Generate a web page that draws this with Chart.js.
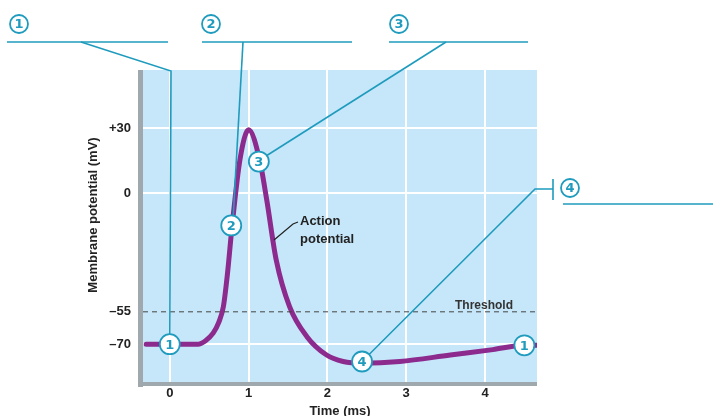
<!DOCTYPE html>
<html>
<head>
<meta charset="utf-8">
<script src="https://cdn.jsdelivr.net/npm/chart.js@4"></script>
<style>
  html, body { margin: 0; padding: 0; background: #fff; }
  #wrap { width: 719px; height: 416px; }
</style>
</head>
<body>
<div id="wrap"><canvas id="chart"></canvas></div>
<script>
// action potential trace (time ms, membrane potential mV)
const timeMs = [-0.3, 0.0, 0.36, 0.45, 0.55, 0.62, 0.68, 0.73, 0.79, 0.89, 1.0, 1.14, 1.23, 1.35, 1.52, 1.74, 1.99, 2.2, 2.44, 2.92, 3.56, 4.1, 4.5, 4.66];
const potential = [-70, -70, -70, -68.5, -64.9, -60, -52.6, -38, -15.5, 15.4, 29.3, 15.4, -3.1, -30.9, -52.6, -66.5, -75, -78, -78.8, -78, -75, -72.5, -70.5, -70.5];
const thresholdMv = -55;
const yTicks = [30, 0, -55, -70];
const yTickLabels = { '30': '+30', '0': '0', '-55': '\u201355', '-70': '\u201370' };
const xTicks = [0, 1, 2, 3, 4];
// numbered markers on the curve
const markerLabels = ['1', '2', '3', '4', '1'];
const markerX = [0, 0.78, 1.13, 2.44, 4.5];
const markerY = [-70, -15, 14.6, -78, -70.5];

const TEAL = '#1f9bbd';

const overlay = {
  id: 'overlay',
  beforeDraw(chart) {
    const { ctx, chartArea: a } = chart;
    ctx.save();
    ctx.fillStyle = '#c6e7f9';
    ctx.fillRect(a.left, a.top, a.right - a.left, a.bottom - a.top);
    ctx.fillStyle = '#9ea8ad';
    ctx.fillRect(a.left - 5, a.top, 5, a.bottom - a.top + 5);
    ctx.fillRect(a.left - 5, a.bottom, a.right - a.left + 5, 4);
    ctx.restore();
  },
  afterDraw(chart) {
    const { ctx } = chart;
    const xs = chart.scales.x, ys = chart.scales.y;
    const pts = markerX.map((v, i) => [xs.getPixelForValue(v), ys.getPixelForValue(markerY[i])]);
    ctx.save();
    ctx.strokeStyle = TEAL;
    ctx.lineWidth = 1.6;
    // label rules and connectors
    const seg = (p) => { ctx.beginPath(); ctx.moveTo(p[0][0], p[0][1]); for (const q of p.slice(1)) ctx.lineTo(q[0], q[1]); ctx.stroke(); };
    seg([[7, 42], [168, 42]]);
    seg([[202, 42], [352, 42]]);
    seg([[389, 42], [528, 42]]);
    seg([[563, 204], [713, 204]]);
    seg([[553, 179], [553, 200]]);
    seg([[81, 42], [171, 71], [pts[0][0], pts[0][1] - 10]]);
    seg([[243, 42], [pts[1][0] + 2, pts[1][1] - 10]]);
    seg([[446, 42], [pts[2][0] + 8, pts[2][1] - 6]]);
    seg([[553, 189], [535, 189], [pts[3][0] + 7, pts[3][1] - 7]]);
    const badge = (x, y, t, r) => {
      ctx.beginPath(); ctx.arc(x, y, r, 0, Math.PI * 2);
      ctx.fillStyle = '#fff'; ctx.fill();
      ctx.lineWidth = 1.8; ctx.strokeStyle = TEAL; ctx.stroke();
      ctx.fillStyle = TEAL; ctx.font = 'bold 13px "DejaVu Sans"';
      ctx.textAlign = 'center'; ctx.textBaseline = 'middle';
      ctx.fillText(t, x, y + 1);
    };
    badge(19, 24, '1', 9);
    badge(211, 24, '2', 9);
    badge(399, 24, '3', 9);
    badge(570, 188, '4', 9);
    pts.forEach((p, i) => badge(p[0], p[1], markerLabels[i], 10));
    // text labels
    ctx.fillStyle = '#222';
    ctx.textAlign = 'left'; ctx.textBaseline = 'middle';
    ctx.font = 'bold 13px "Liberation Sans"';
    ctx.fillText('Action', 300, 221);
    ctx.fillText('potential', 300, 239);
    ctx.strokeStyle = '#222'; ctx.lineWidth = 1.2;
    seg([[298, 222], [293, 224], [274, 240]]);
    ctx.fillStyle = '#333';
    ctx.font = 'bold 12px "Liberation Sans"';
    ctx.fillText('Threshold', 455, 306);
    ctx.fillStyle = '#222';
    ctx.font = 'bold 13px "Liberation Sans"';
    ctx.textAlign = 'center';
    ctx.fillText('Time (ms)', 340, 411);
    ctx.translate(93, 215);
    ctx.rotate(-Math.PI / 2);
    ctx.fillText('Membrane potential (mV)', 0, 0);
    ctx.restore();
  }
};

new Chart(document.getElementById('chart'), {
  type: 'line',
  data: {
    datasets: [
      {
        label: 'Threshold',
        data: [{ x: -0.34, y: thresholdMv }, { x: 4.66, y: thresholdMv }],
        borderColor: '#444', borderWidth: 1, borderDash: [5, 4], pointRadius: 0
      },
      {
        label: 'Action potential',
        data: timeMs.map((t, i) => ({ x: t, y: potential[i] })),
        borderColor: '#8c2a8e', borderWidth: 5, pointRadius: 0,
        cubicInterpolationMode: 'monotone', borderCapStyle: 'round'
      }
    ]
  },
  options: {
    responsive: true,
    maintainAspectRatio: false,
    animation: false,
    layout: { padding: { left: 0, right: 182, top: 70, bottom: 0 } },
    plugins: { legend: { display: false }, tooltip: { enabled: false } },
    scales: {
      x: {
        type: 'linear', min: -0.34, max: 4.66,
        afterBuildTicks: (s) => { s.ticks = xTicks.map(v => ({ value: v })); },
        afterFit: (s) => { s.height = 34; },
        grid: { color: '#fff', lineWidth: 2, drawTicks: false },
        border: { display: false },
        ticks: { padding: 4, color: '#222', font: { family: 'Liberation Sans', size: 13, weight: 'bold' } }
      },
      y: {
        min: -87.5, max: 57,
        afterBuildTicks: (s) => { s.ticks = yTicks.map(v => ({ value: v })); },
        afterFit: (s) => { s.width = 143; },
        grid: {
          color: (c) => c.tick && c.tick.value === -55 ? 'rgba(0,0,0,0)' : '#fff',
          lineWidth: 2, drawTicks: false
        },
        border: { display: false },
        ticks: {
          padding: 12, color: '#222',
          font: { family: 'Liberation Sans', size: 13, weight: 'bold' },
          callback: (v) => yTickLabels[String(v)]
        }
      }
    }
  },
  plugins: [overlay]
});
</script>
</body>
</html>
